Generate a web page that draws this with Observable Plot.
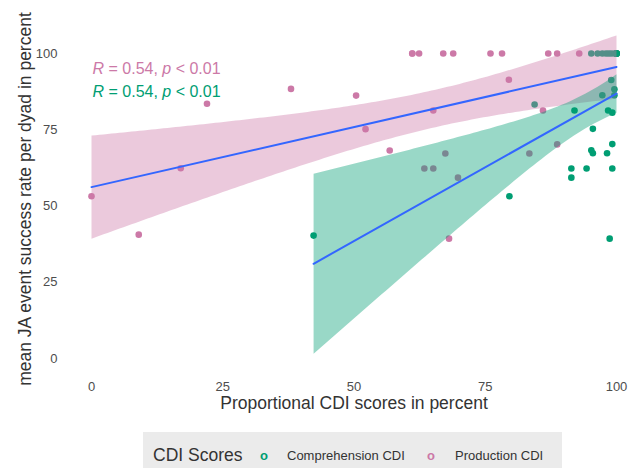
<!DOCTYPE html>
<html><head><meta charset="utf-8">
<script src="https://cdn.jsdelivr.net/npm/d3@7"></script>
<script src="https://cdn.jsdelivr.net/npm/@observablehq/plot@0.6"></script>
<style>
body{margin:0;background:#fff;width:632px;height:468px;overflow:hidden;position:relative;font-family:"Liberation Sans",Arial,sans-serif;}
#chart{position:absolute;left:0;top:0;}
#legend{position:absolute;left:143px;top:432px;width:419px;height:40px;background:#ebebeb;}
#legend span{position:absolute;top:0;line-height:47px;white-space:nowrap;}
</style></head><body>
<div id="chart"></div>
<div id="legend"></div>
<script>
const xTicks = [0, 25, 50, 75, 100];
const yTicks = [0, 25, 50, 75, 100];
const seriesNames = ["Comprehension CDI", "Production CDI"];
const seriesColors = ["#009E73", "#CC79A7"];
const legendTitle = "CDI Scores";
const xTitle = "Proportional CDI scores in percent";
const yTitle = "mean JA event success rate per dyad in percent";
const corLabels = ["R = 0.54, p < 0.01", "R = 0.54, p < 0.01"]; // production, comprehension

// Comprehension CDI
const compX = [42.3, 79.6, 84.4, 92, 91.4, 91.4, 94.3, 95.2, 95.5, 95.5, 97.3, 98.2, 98.4, 98.7, 99, 99.2, 99.2, 99.2, 99.6, 99.6,
               95.2, 96.4, 97.3, 98, 98.5, 99, 99.6, 100, 100, 100, 100, 100, 100];
const compY = [40.3, 53.2, 83.3, 81.3, 62.3, 59.3, 62.3, 68.3, 67.3, 75.3, 86.3, 67.3, 81.3, 39.3, 91.3, 70.3, 62.3, 80.6, 88.3, 86.3,
               100, 100, 100, 100, 100, 100, 100, 100, 100, 100, 100, 100, 100];
// Production CDI
const prodX = [0, 9, 17, 22, 38, 50.4, 52.2, 56.8, 65.1, 79.5, 88.7, 68.1, 67.4, 63.4, 65.1, 69.8, 83.4, 86,
               61.1, 61.1, 62.4, 67, 68.9, 76, 78.2, 87, 88.7, 92.9, 100, 100, 100];
const prodY = [53.2, 40.6, 62.4, 83.5, 88.4, 86.2, 75.2, 68.2, 81.3, 91.4, 70.2, 39.3, 67.2, 62.3, 62.3, 59.3, 67.2, 81.3,
               100, 100, 100, 100, 100, 100, 100, 100, 100, 100, 100, 100, 100];

const comp = compX.map((x, i) => ({x, y: compY[i], s: seriesNames[0]}));
const prod = prodX.map((x, i) => ({x, y: prodY[i], s: seriesNames[1]}));
const all = [...prod, ...comp];

const plot = Plot.plot({
  width: 632, height: 432,
  marginLeft: 91, marginRight: 16, marginTop: 53, marginBottom: 74,
  style: {fontFamily: "'Liberation Sans', Arial, sans-serif", background: "white", color: "#4d4d4d"},
  x: {domain: [0, 100]},
  y: {domain: [0, 100]},
  color: {domain: seriesNames, range: seriesColors},
  marks: [
    Plot.axisX({ticks: xTicks, tickSize: 0, tickPadding: 23, fontSize: 13, label: null}),
    Plot.axisY({ticks: yTicks, tickSize: 0, tickPadding: 34, fontSize: 13, label: null}),
    Plot.text([xTitle], {text: d => d, frameAnchor: "bottom", textAnchor: "middle", dy: 50, fontSize: 17.5, fill: "#333333"}),
    Plot.text([yTitle], {text: d => d, frameAnchor: "left", textAnchor: "middle", rotate: -90, dx: -66, dy: -7, fontSize: 17.5, fill: "#333333"}),
    Plot.dot(all, {x: "x", y: "y", fill: "s", r: 3.3}),
    Plot.linearRegressionY(prod, {x: "x", y: "y", stroke: "#3366FF", fill: seriesColors[1], fillOpacity: 0.4, strokeWidth: 2}),
    Plot.linearRegressionY(comp, {x: "x", y: "y", stroke: "#3366FF", fill: seriesColors[0], fillOpacity: 0.4, strokeWidth: 2}),
    Plot.text([corLabels[0]], {text: d => d, frameAnchor: "top-left", dx: 1, dy: 20, lineAnchor: "bottom", textAnchor: "start", fontSize: 16, fill: seriesColors[1]}),
    Plot.text([corLabels[1]], {text: d => d, frameAnchor: "top-left", dx: 1, dy: 43, lineAnchor: "bottom", textAnchor: "start", fontSize: 16, fill: seriesColors[0]})
  ]
});
document.getElementById("chart").appendChild(plot);

// italicize R and p in correlation labels
d3.select(plot).selectAll("text").each(function() {
  const t = this.textContent;
  if (!corLabels.includes(t)) return;
  const sel = d3.select(this);
  sel.text(null);
  t.split(/(\bR\b|\bp\b)/).filter(s => s.length).forEach(part => {
    const ts = sel.append("tspan").text(part);
    if (part === "R" || part === "p") ts.attr("font-style", "italic");
  });
});

// legend
const leg = d3.select("#legend");
leg.append("span").style("left", "10px").style("font-size", "17.5px").style("color", "#333").text(legendTitle);
const keyLeft = [117, 284], labLeft = [144, 312];
seriesNames.forEach((name, i) => {
  leg.append("span").style("left", keyLeft[i] + "px").style("font-size", "13px").style("font-weight", "bold").style("color", seriesColors[i]).text("o");
  leg.append("span").style("left", labLeft[i] + "px").style("font-size", "13px").style("color", "#333").text(name);
});
</script>
</body></html>
